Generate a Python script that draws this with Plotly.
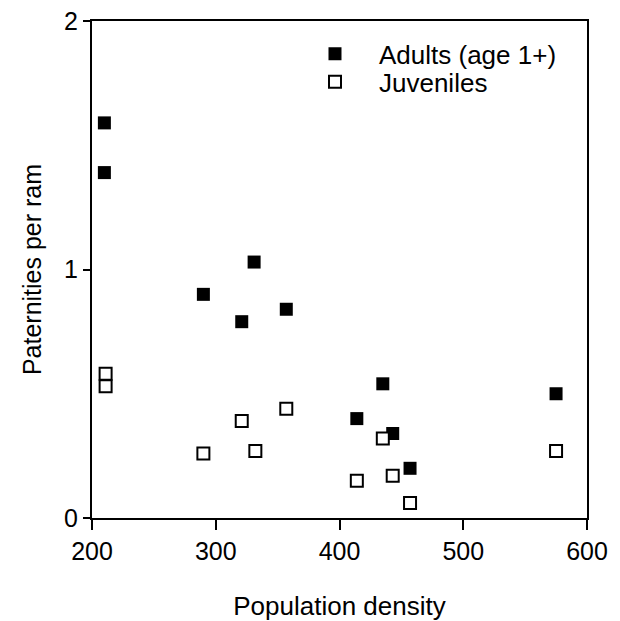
import plotly.graph_objects as go

adult_x = [210, 210, 290, 321, 331, 357, 414, 435, 443, 457, 575]
adult_y = [1.59, 1.39, 0.90, 0.79, 1.03, 0.84, 0.40, 0.54, 0.34, 0.20, 0.50]
juv_x = [211, 211, 290, 321, 332, 357, 414, 435, 443, 457, 575]
juv_y = [0.58, 0.53, 0.26, 0.39, 0.27, 0.44, 0.15, 0.32, 0.17, 0.06, 0.27]
x_ticks = [200, 300, 400, 500, 600]
y_ticks = [0, 1, 2]

FONT = "Arial, 'Liberation Sans', sans-serif"

fig = go.Figure()
fig.add_trace(go.Scatter(
    x=adult_x, y=adult_y, mode="markers", name="Adults (age 1+)", legend="legend",
    marker=dict(symbol="square", size=13, color="black", line=dict(width=0)),
))
fig.add_trace(go.Scatter(
    x=juv_x, y=juv_y, mode="markers", name="Juveniles", legend="legend2",
    marker=dict(symbol="square", size=12, color="white", line=dict(width=2, color="black")),
))

leg_common = dict(xanchor="left", yanchor="top", bgcolor="rgba(0,0,0,0)",
                  borderwidth=0, itemwidth=78, font=dict(size=26, family=FONT))

fig.update_layout(
    width=620, height=621,
    margin=dict(l=92, r=33, t=21, b=103),
    paper_bgcolor="white", plot_bgcolor="white",
    font=dict(family=FONT, size=25, color="black"),
    showlegend=True,
    legend=dict(x=0.402, y=0.981, **leg_common),
    legend2=dict(x=0.402, y=0.925, **leg_common),
    xaxis=dict(range=[200, 600], tickvals=x_ticks, ticktext=[str(v) for v in x_ticks],
               showgrid=False, zeroline=False, showline=True, linecolor="black",
               linewidth=2, mirror=True, ticks="outside", ticklen=10, tickwidth=2,
               tickcolor="black", automargin=False,
               title=dict(text="Population density", font=dict(size=26), standoff=36)),
    yaxis=dict(range=[0, 2], tickvals=y_ticks, ticktext=[str(v) for v in y_ticks],
               showgrid=False, zeroline=False, showline=True, linecolor="black",
               linewidth=2, mirror=True, ticks="outside", ticklen=7, tickwidth=2,
               tickcolor="black", automargin=False,
               title=dict(text="Paternities per ram", font=dict(size=25))),
)

fig.write_html("out.html")
